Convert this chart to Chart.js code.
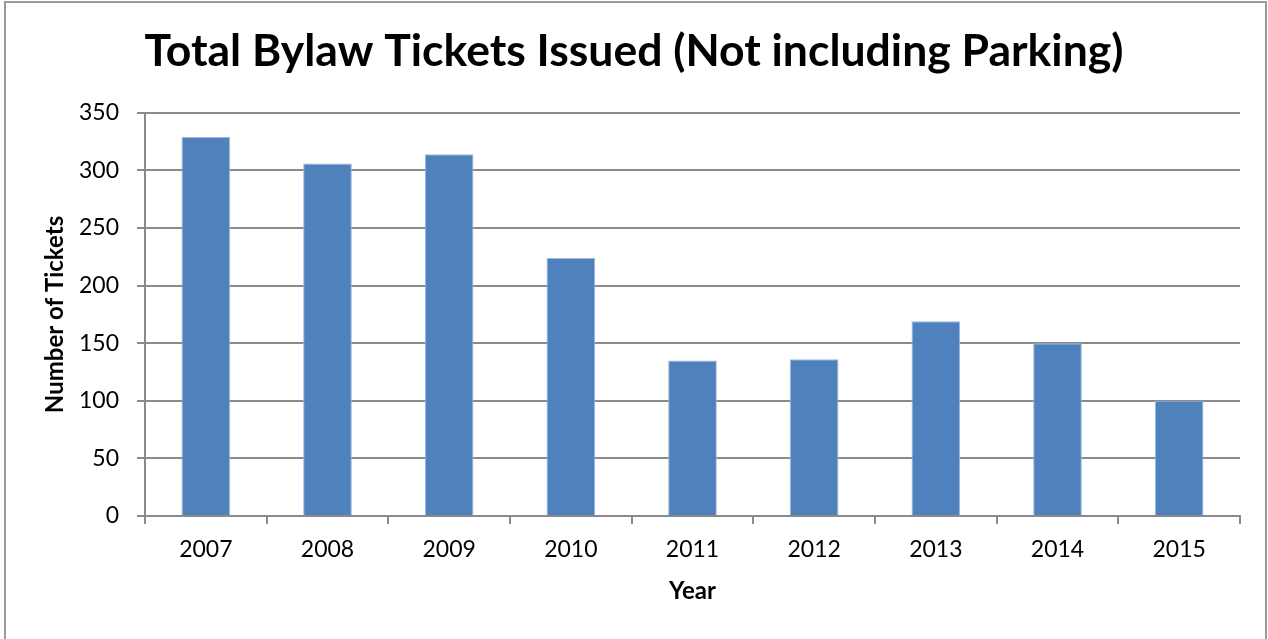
<!DOCTYPE html>
<html>
<head>
<meta charset="utf-8">
<script src="https://cdn.jsdelivr.net/npm/chart.js@4.4.0/dist/chart.umd.min.js"></script>
<style>
    html, body { margin: 0; padding: 0; background: #fff; }
    #wrap { width: 1268px; height: 639px; position: relative; }
</style>
</head>
<body>
<div id="wrap"><canvas id="ticketsChart" width="1268" height="639"></canvas></div>
<script>
const years = ['2007', '2008', '2009', '2010', '2011', '2012', '2013', '2014', '2015'];
const tickets = [329, 306, 314, 224, 135, 136, 169, 150, 100];
const yTicks = [0, 50, 100, 150, 200, 250, 300, 350];

const fontName = 'Lato';
const gridGray = '#8a8a8a';

// outer frame of the chart
const framePlugin = {
    id: 'frame',
    beforeDraw(chart) {
        const c = chart.ctx;
        c.save();
        c.fillStyle = '#ffffff';
        c.fillRect(0, 0, chart.width, chart.height);
        c.strokeStyle = '#9a9a9a';
        c.lineWidth = 2;
        c.strokeRect(5, 2, chart.width - 7, chart.height + 10);
        c.restore();
    }
};

const ctx = document.getElementById('ticketsChart').getContext('2d');

new Chart(ctx, {
    type: 'bar',
    data: {
        labels: years,
        datasets: [{
            label: 'Tickets',
            data: tickets,
            backgroundColor: '#4F81BD',
            borderColor: '#9DB9DE',
            borderWidth: 1,
            barPercentage: 0.4,
            categoryPercentage: 1
        }]
    },
    options: {
        responsive: false,
        animation: false,
        layout: {
            padding: { top: 0, right: 28, bottom: 0, left: 28 }
        },
        plugins: {
            legend: { display: false },
            tooltip: { enabled: false },
            title: {
                display: true,
                text: 'Total Bylaw Tickets Issued (Not including Parking)',
                color: '#000',
                font: { family: fontName, size: 44.5, weight: 'bold' },
                padding: { top: 25, bottom: 34.5 }
            }
        },
        scales: {
            x: {
                grid: {
                    offset: true,
                    drawOnChartArea: false,
                    drawTicks: true,
                    tickLength: 8,
                    color: gridGray,
                    lineWidth: 2
                },
                border: { color: gridGray, width: 2 },
                ticks: {
                    color: '#000',
                    padding: 12,
                    font: { family: fontName, size: 23 }
                },
                title: {
                    display: true,
                    text: 'Year',
                    color: '#000',
                    font: { family: fontName, size: 24, weight: 'bold' },
                    padding: { top: 0, bottom: 33.5 }
                },
                afterFit(scale) { scale.height = 123; }
            },
            y: {
                min: 0,
                max: 350,
                afterBuildTicks(scale) {
                    scale.ticks = yTicks.map(v => ({ value: v }));
                },
                grid: {
                    color: gridGray,
                    lineWidth: 2,
                    tickLength: 8
                },
                border: { color: gridGray, width: 2 },
                ticks: {
                    color: '#000',
                    padding: 18,
                    font: { family: fontName, size: 23 }
                },
                title: {
                    display: true,
                    text: 'Number of Tickets',
                    color: '#000',
                    font: { family: fontName, size: 24, weight: 'bold' },
                    padding: { top: 12.5, bottom: 0 }
                },
                afterFit(scale) { scale.width = 117; }
            }
        }
    },
    plugins: [framePlugin]
});
</script>
</body>
</html>
